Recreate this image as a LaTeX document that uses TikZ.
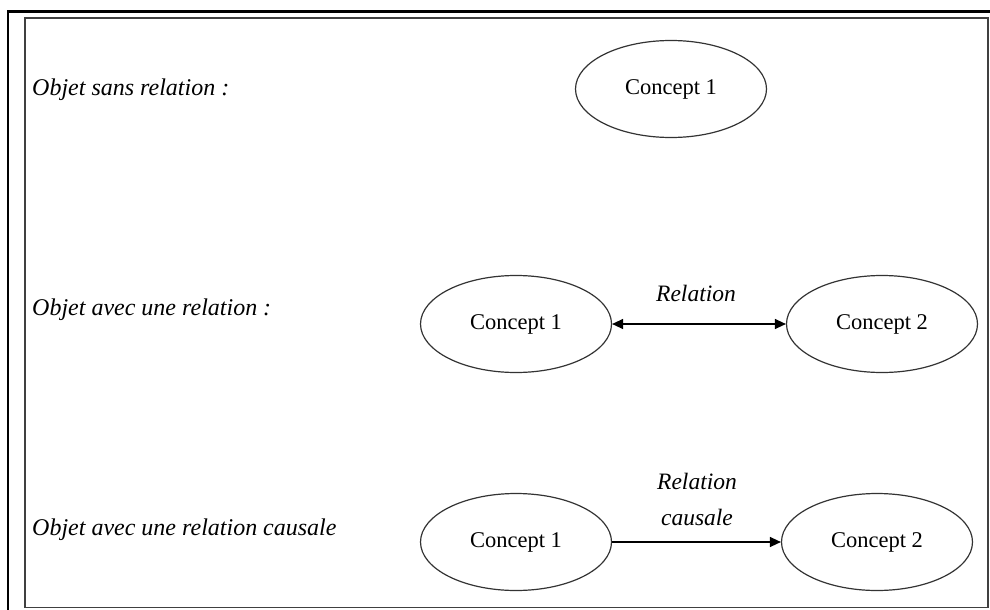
\documentclass[tikz,border=0pt]{standalone}
\usepackage{fontspec}
\setmainfont{Liberation Serif}
\usetikzlibrary{shapes.geometric,arrows.meta}
\begin{document}
\begin{tikzpicture}[x=1pt,y=-1pt,
  concept/.style={ellipse,draw=black!80,line width=1.2pt,inner sep=0pt,
    minimum width=191pt,minimum height=97pt,font=\fontsize{22.5}{26}\selectfont},
  lbl/.style={anchor=base west,inner sep=0pt,font=\fontsize{24}{28}\selectfont\itshape},
  rel/.style={inner sep=0pt,align=center,font=\fontsize{23.5}{36}\selectfont\itshape},
  conn/.style={line width=1.3pt,black},
  tip/.tip={Triangle[length=11pt,width=10pt]}]
\useasboundingbox (0,0) rectangle (990,610);
\fill[white] (0,0) rectangle (990,610);
% frames
\draw[line width=2.7pt,black] (8,612) -- (8,11.3) -- (992,11.3);
\draw[line width=1.4pt,black!75] (25,18) rectangle (988,607.5);
% left labels
\node[lbl] (l1) at (32,95) {Objet sans relation :};
\node[lbl] (l2) at (32,315) {Objet avec une relation :};
\node[lbl] (l3) at (32,535) {Objet avec une relation causale};
% top
\node[concept] (t1) at (671,89) {Concept 1};
% middle
\node[concept] (m1) at (516,324) {Concept 1};
\node[concept] (m2) at (882,324) {Concept 2};
\draw[conn,tip-tip] (m1.east) -- (m2.west);
\node[rel] (mr) at (696,293) {Relation};
% bottom
\node[concept] (b1) at (516,542) {Concept 1};
\node[concept] (b2) at (877,542) {Concept 2};
\draw[conn,-tip] (b1.east) -- (b2.west);
\node[rel] (br) at (697,499) {Relation\\causale};
\end{tikzpicture}
\end{document}
